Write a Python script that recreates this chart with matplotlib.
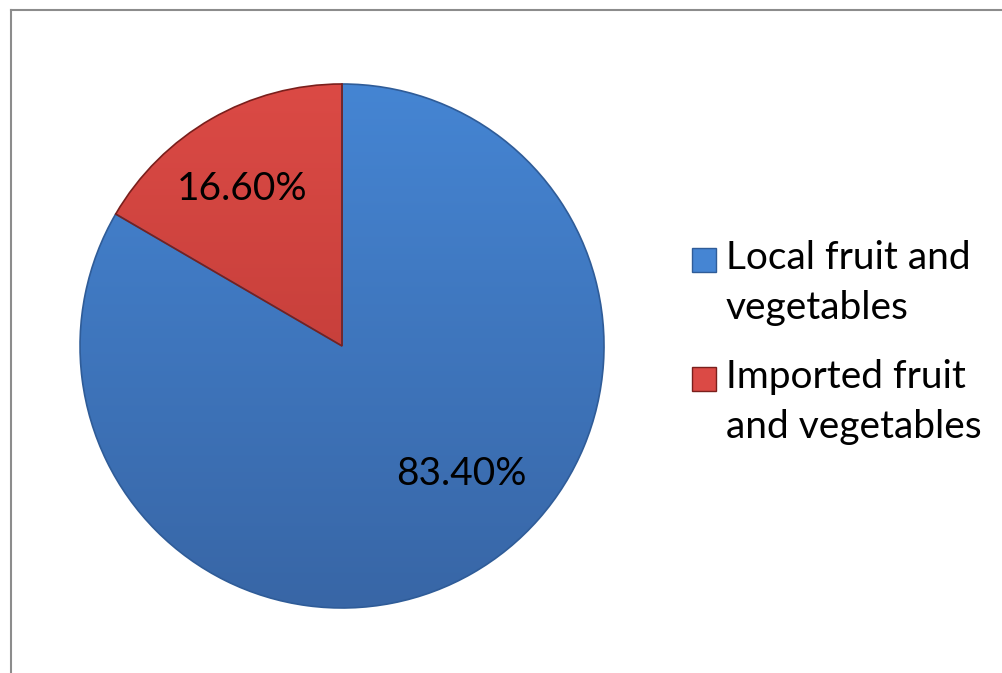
import numpy as np
import matplotlib.pyplot as plt
from matplotlib.colors import LinearSegmentedColormap
from matplotlib.lines import Line2D
from matplotlib.patches import Rectangle

# Data
labels = ['Local fruit and\nvegetables', 'Imported fruit\nand vegetables']
shares = [83.4, 16.6]
pct_text = ['83.40%', '16.60%']

# top / bottom colours of the vertical gradient on each slice
grad_colors = [('#4585D3', '#3866A6'), ('#DB4A45', '#B53632')]
edge_colors = ['#2F5C98', '#7A1F1C']

plt.rcParams['font.family'] = ['Lato', 'DejaVu Sans']

fig = plt.figure(figsize=(10.03, 6.73), dpi=100)
ax = fig.add_axes([0.0798, 0.0966, 0.5224, 0.7786])

wedges, _ = ax.pie(shares, startangle=90, counterclock=False,
                   colors=[c[0] for c in grad_colors], radius=1.0,
                   wedgeprops=dict(linewidth=0))
ax.set_xlim(-1, 1)
ax.set_ylim(-1, 1)
ax.set_aspect('equal')
ax.axis('off')

# gradient fill clipped to each wedge (row 0 = top)
yy = np.linspace(0, 1, 256).reshape(-1, 1)
for w, (top, bot), ec in zip(wedges, grad_colors, edge_colors):
    cmap = LinearSegmentedColormap.from_list('g', [top, bot])
    im = ax.imshow(yy, cmap=cmap, extent=[-1, 1, -1, 1], aspect='auto',
                   origin='upper', zorder=w.get_zorder() + 0.1)
    im.set_clip_path(w)
    w.set_facecolor('none')
    w.set_edgecolor(ec)
    w.set_linewidth(1.2)
    w.set_zorder(w.get_zorder() + 0.2)

# percentage labels (Excel best-fit style placement)
label_angles = [-47, 122.5]
label_radii = [0.67, 0.71]
for txt, ang, r in zip(pct_text, label_angles, label_radii):
    a = np.deg2rad(ang)
    ax.text(r * np.cos(a), r * np.sin(a), txt, ha='center', va='center',
            fontsize=28, color='black', zorder=10)

# legend, built by hand so the marker sits on the first text line
W, H = 1003, 673
for i, (lab, (top, bot), ec) in enumerate(zip(labels, grad_colors, edge_colors)):
    y_mark = 260 + i * 119          # pixel row of marker centre
    fig.add_artist(Rectangle((692 / W, 1 - (y_mark + 12) / H), 24 / W, 24 / H,
                             facecolor=top, edgecolor=ec, linewidth=1,
                             transform=fig.transFigure))
    fig.text(726 / W, 1 - (y_mark - 20) / H, lab, ha='left', va='top',
             fontsize=28, linespacing=1.48)

# chart-area frame (top and left only visible)
fig.add_artist(Line2D([0.0105, 1.0], [0.985, 0.985], color='#8C8C8C', lw=1.5,
                      transform=fig.transFigure))
fig.add_artist(Line2D([0.0105, 0.0105], [0.0, 0.985], color='#8C8C8C', lw=1.5,
                      transform=fig.transFigure))

fig.savefig('out.png', dpi=100, facecolor='white')
